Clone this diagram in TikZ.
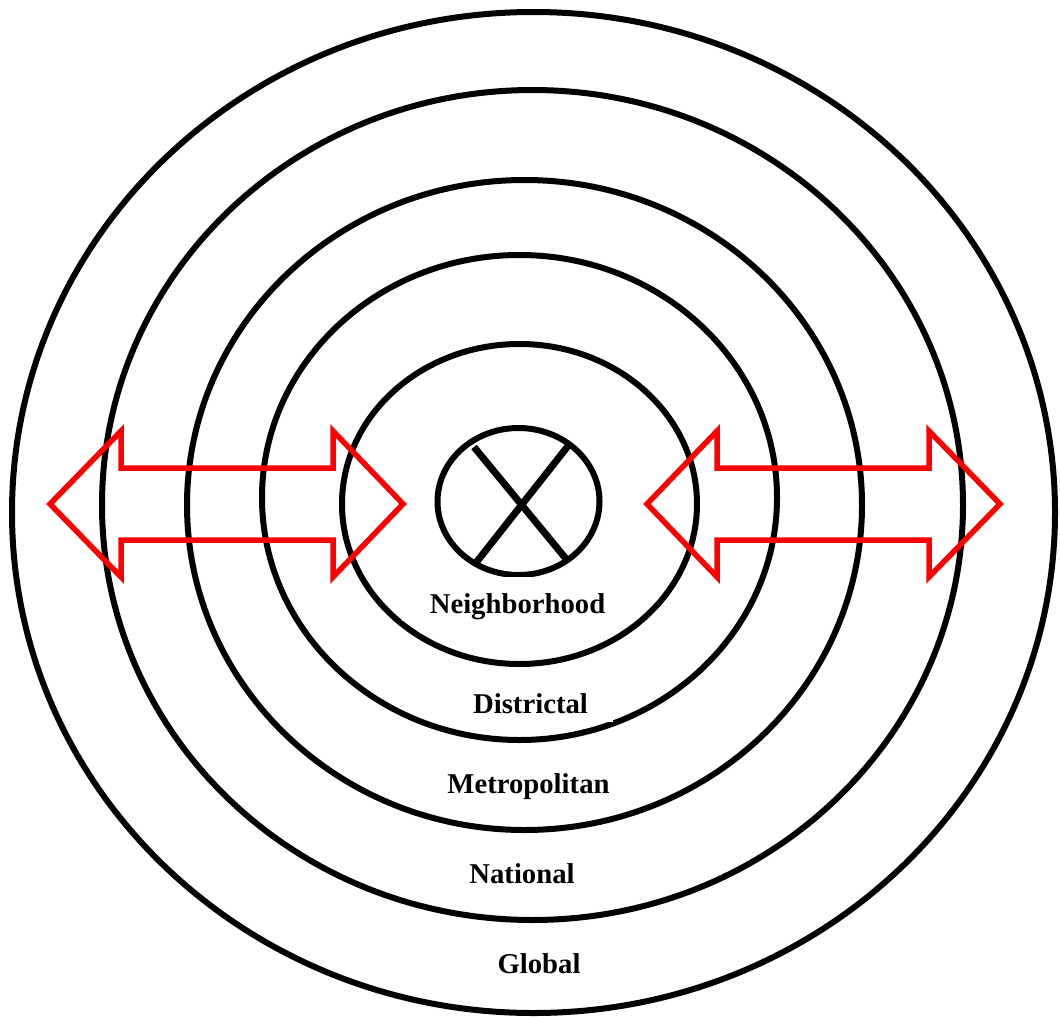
\documentclass[tikz,border=0pt]{standalone}
\usepackage{fontspec}
\setmainfont{Liberation Serif}
\begin{document}
\begin{tikzpicture}[x=1pt,y=-1pt,
  ring/.style={draw=black,line width=6pt},
  cross/.style={draw=black,line width=7pt},
  dblarrow/.style={draw=red,line width=5.5pt,line join=miter},
  cover/.style={fill=white},
  lbl/.style={font=\fontsize{28.7}{30}\selectfont\bfseries,anchor=base,inner sep=0pt}]
\useasboundingbox[fill=white] (0,0) rectangle (1060,1017);
% concentric rings
\draw[ring] (533.5,512.5) ellipse [x radius=521.5, y radius=500.5];
\draw[ring] (532.5,505) ellipse [x radius=430.5, y radius=415];
\draw[ring] (524.5,505) ellipse [x radius=337.5, y radius=325];
\draw[ring] (519.5,497.5) ellipse [x radius=257.5, y radius=242.5];
\draw[ring] (519.5,504) ellipse [x radius=177.5, y radius=160];
% centre symbol
\draw[ring] (518.5,501.5) ellipse [x radius=81, y radius=73.5];
\draw[cross] (474,447) -- (567,560);
\draw[cross] (568,446) -- (475,564);
% label backgrounds
\fill[cover] (402,577) rectangle (625,621);
\fill[cover] (447,680) rectangle (613,722);
% labels
\node[lbl] (nbh) at (517.5,613) {Neighborhood};
\node[lbl] (dst) at (530.5,713) {Districtal};
\node[lbl] (met) at (528.5,793) {Metropolitan};
\node[lbl] (nat) at (522,883) {National};
\node[lbl] (glb) at (539,973) {Global};
% red double arrows
\draw[dblarrow] (50,504) -- (121,431) -- (121,468) -- (333,468) -- (333,431) -- (403,504)
  -- (333,577) -- (333,540) -- (121,540) -- (121,577) -- cycle;
\draw[dblarrow] (647,504) -- (717,431) -- (717,468) -- (929,468) -- (929,431) -- (1000,504)
  -- (929,577) -- (929,540) -- (717,540) -- (717,577) -- cycle;
\end{tikzpicture}
\end{document}
